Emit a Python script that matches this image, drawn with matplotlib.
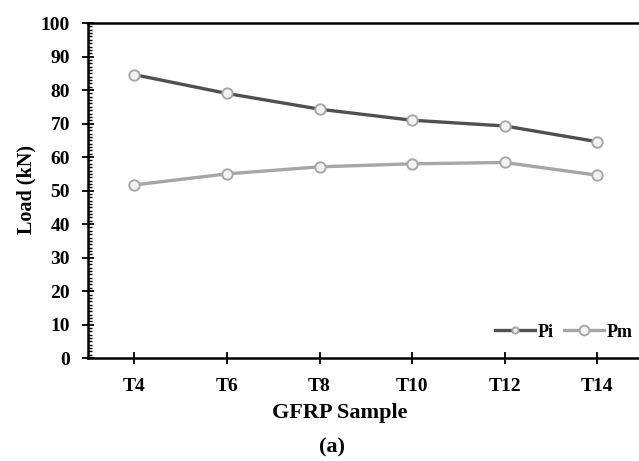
import matplotlib.pyplot as plt
from matplotlib.ticker import MultipleLocator

plt.rcParams['font.family'] = ['Liberation Serif', 'DejaVu Serif']
plt.rcParams['font.weight'] = 'bold'

# GFRP samples and measured loads (kN)
samples = ["T4", "T6", "T8", "T10", "T12", "T14"]
pi_load = [84.6, 79.0, 74.3, 71.0, 69.3, 64.6]
pm_load = [51.7, 55.0, 57.1, 58.0, 58.4, 54.6]

fig = plt.figure(figsize=(6.39, 4.61), dpi=100)
ax = fig.add_axes([0.138, 0.223, 0.869, 0.727])

x = range(len(samples))
ax.plot(x, pi_load, color='#505050', lw=2.4, marker='o', ms=7.5,
        mfc='#f2f2f2', mec='#a8a8a8', mew=1.4, label='Pi', zorder=3)
ax.plot(x, pm_load, color='#a6a6a6', lw=2.4, marker='o', ms=7.5,
        mfc='#f2f2f2', mec='#a8a8a8', mew=1.4, label='Pm', zorder=3)

ax.set_xlim(-0.5, 5.5)
ax.set_ylim(0, 100)
ax.set_xticks(list(x))
ax.set_xticklabels(samples)
ax.yaxis.set_major_locator(MultipleLocator(10))
ax.yaxis.set_minor_locator(MultipleLocator(1))

for side in ['left', 'bottom', 'top']:
    ax.spines[side].set_linewidth(1.8)
ax.spines['right'].set_visible(False)

ax.tick_params(axis='both', which='major', direction='inout', length=8, width=1.3,
               labelsize=14)
ax.tick_params(axis='y', which='major', pad=9)
ax.tick_params(axis='x', which='major', pad=10)
ax.tick_params(axis='y', which='minor', direction='in', length=3, width=1.0)
for lbl in ax.get_xticklabels() + ax.get_yticklabels():
    lbl.set_fontweight('bold')

fig.text(0.041, 0.588, 'Load (kN)', rotation=90, ha='center', va='center',
         fontsize=14.5, fontweight='bold')
fig.text(0.532, 0.104, 'GFRP Sample', ha='center', va='center',
         fontsize=16, fontweight='bold')
fig.text(0.52, 0.03, '(a)', ha='center', va='center',
         fontsize=16, fontweight='bold')

leg = ax.legend(loc='lower right', bbox_to_anchor=(1.0, 0.02), ncol=2, frameon=False,
                fontsize=13, handlelength=2.2, handletextpad=0.15, columnspacing=0.6,
                borderaxespad=0.2)
leg.legend_handles[0].set_markersize(4.5)
leg.legend_handles[1].set_markersize(7)

fig.savefig('out.png', dpi=100)
